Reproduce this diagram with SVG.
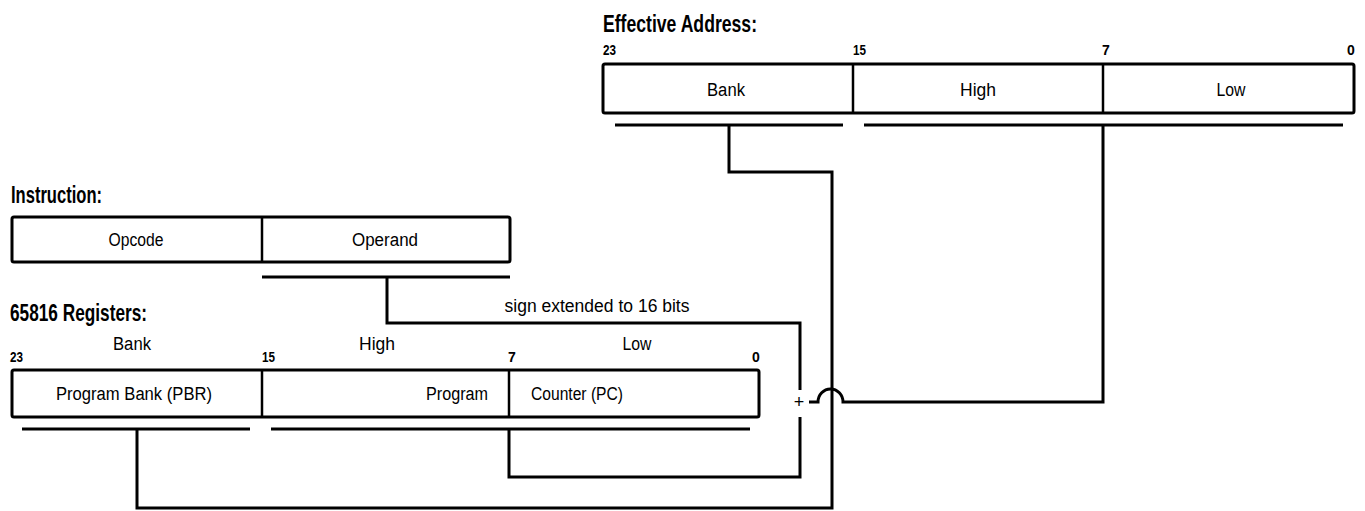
<svg xmlns="http://www.w3.org/2000/svg" width="1365" height="511" viewBox="0 0 1365 511">
  <style>
    .box { fill: #fff; stroke: #000; stroke-width: 3; stroke-linejoin: round; }
    .div { stroke: #000; stroke-width: 2.5; }
    .ln { fill: none; stroke: #000; stroke-width: 3; stroke-linejoin: miter; }
    .head { font-family: "Liberation Sans", Arial, sans-serif; font-weight: bold; font-size: 24px; fill: #000; }
    .lbl { font-family: "Liberation Sans", Arial, sans-serif; font-size: 18px; fill: #000; }
    .bit { font-family: "Liberation Sans", Arial, sans-serif; font-weight: bold; font-size: 14px; fill: #000; }
  </style>
  <rect width="1365" height="511" fill="#fff"/>

  <!-- Effective address register -->
  <g id="effective-address">
    <text class="head" x="603" y="32" textLength="154" lengthAdjust="spacingAndGlyphs">Effective Address:</text>
    <text class="bit" x="603" y="55" textLength="13" lengthAdjust="spacingAndGlyphs">23</text>
    <text class="bit" x="853" y="55" textLength="13" lengthAdjust="spacingAndGlyphs">15</text>
    <text class="bit" x="1102" y="55">7</text>
    <text class="bit" x="1347" y="55">0</text>
    <rect class="box" x="603" y="64" width="751" height="49" rx="2"/>
    <line class="div" x1="853" y1="64" x2="853" y2="113"/>
    <line class="div" x1="1103" y1="64" x2="1103" y2="113"/>
    <text class="lbl" x="726" y="96" text-anchor="middle" textLength="38" lengthAdjust="spacingAndGlyphs">Bank</text>
    <text class="lbl" x="978" y="96" text-anchor="middle" textLength="36" lengthAdjust="spacingAndGlyphs">High</text>
    <text class="lbl" x="1231" y="96" text-anchor="middle" textLength="29" lengthAdjust="spacingAndGlyphs">Low</text>
  </g>

  <!-- Instruction -->
  <g id="instruction">
    <text class="head" x="11" y="203" textLength="91" lengthAdjust="spacingAndGlyphs">Instruction:</text>
    <rect class="box" x="12" y="217" width="498" height="45" rx="2"/>
    <line class="div" x1="262" y1="217" x2="262" y2="262"/>
    <text class="lbl" x="136" y="246" text-anchor="middle" textLength="55" lengthAdjust="spacingAndGlyphs">Opcode</text>
    <text class="lbl" x="385" y="246" text-anchor="middle" textLength="66" lengthAdjust="spacingAndGlyphs">Operand</text>
  </g>

  <!-- 65816 registers -->
  <g id="registers">
    <text class="head" x="10" y="321" textLength="137" lengthAdjust="spacingAndGlyphs">65816 Registers:</text>
    <text class="lbl" x="132" y="350" text-anchor="middle" textLength="38" lengthAdjust="spacingAndGlyphs">Bank</text>
    <text class="lbl" x="377" y="350" text-anchor="middle" textLength="36" lengthAdjust="spacingAndGlyphs">High</text>
    <text class="lbl" x="637" y="350" text-anchor="middle" textLength="29" lengthAdjust="spacingAndGlyphs">Low</text>
    <text class="bit" x="10" y="362" textLength="13" lengthAdjust="spacingAndGlyphs">23</text>
    <text class="bit" x="262" y="362" textLength="13" lengthAdjust="spacingAndGlyphs">15</text>
    <text class="bit" x="508" y="362">7</text>
    <text class="bit" x="752" y="362">0</text>
    <rect class="box" x="12" y="370" width="747" height="47" rx="2"/>
    <line class="div" x1="262" y1="370" x2="262" y2="417"/>
    <line class="div" x1="509" y1="370" x2="509" y2="417"/>
    <text class="lbl" x="134" y="400" text-anchor="middle" textLength="156" lengthAdjust="spacingAndGlyphs">Program Bank (PBR)</text>
    <text class="lbl" x="488" y="400" text-anchor="end" textLength="62" lengthAdjust="spacingAndGlyphs">Program</text>
    <text class="lbl" x="531" y="400" textLength="92" lengthAdjust="spacingAndGlyphs">Counter (PC)</text>
  </g>

  <!-- Adder -->
  <g id="adder">
    <text class="lbl" x="799" y="408" text-anchor="middle" font-size="16">+</text>
  </g>

  <!-- Field brackets and data paths -->
  <g id="connectors">
    <!-- field underlines -->
    <line class="ln" x1="615" y1="125" x2="843" y2="125"/>
    <line class="ln" x1="864" y1="125" x2="1343" y2="125"/>
    <line class="ln" x1="262" y1="277" x2="510" y2="277"/>
    <line class="ln" x1="22" y1="429" x2="250" y2="429"/>
    <line class="ln" x1="271" y1="429" x2="750" y2="429"/>

    <!-- operand, sign extended, into the adder -->
    <path class="ln" d="M387 277 V323 H800 V390"/>
    <text class="lbl" x="597" y="312" text-anchor="middle" textLength="185" lengthAdjust="spacingAndGlyphs">sign extended to 16 bits</text>

    <!-- PC high/low into the adder -->
    <path class="ln" d="M509 429 V477 H800 V417"/>

    <!-- adder result to EA high/low, hopping over the bank path -->
    <path class="ln" d="M809 402 H818 A12.5 13 0 0 1 843 402 H1103 V125"/>

    <!-- PBR to EA bank -->
    <path class="ln" d="M137 429 V508 H832 V172 H729 V125"/>
  </g>
</svg>
